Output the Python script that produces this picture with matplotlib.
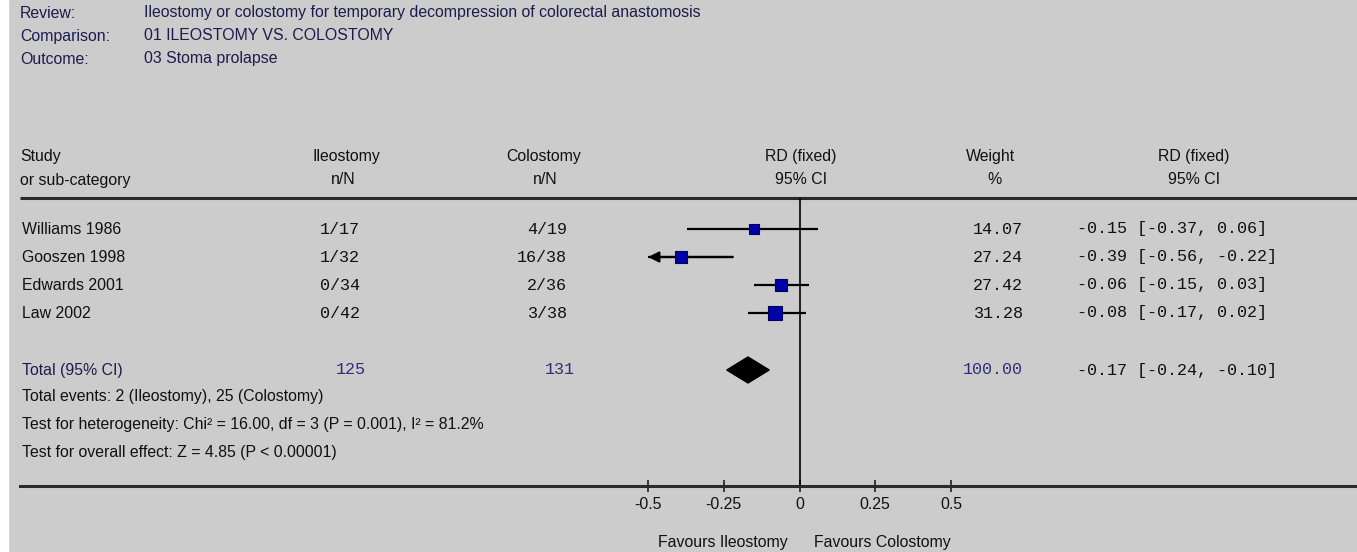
import matplotlib
matplotlib.use("Agg")
import matplotlib.pyplot as plt
from matplotlib import font_manager
from matplotlib.patches import Polygon, Rectangle

# ---------------- data ----------------
review = "Ileostomy or colostomy for temporary decompression of colorectal anastomosis"
comparison = "01 ILEOSTOMY VS. COLOSTOMY"
outcome = "03 Stoma prolapse"

studies = ["Williams 1986", "Gooszen 1998", "Edwards 2001", "Law 2002"]
ileo_events = [1, 1, 0, 0]
ileo_total = [17, 32, 34, 42]
colo_events = [4, 16, 2, 3]
colo_total = [19, 38, 36, 38]
weights = [14.07, 27.24, 27.42, 31.28]
rd = [-0.15, -0.39, -0.06, -0.08]
ci_lo = [-0.37, -0.56, -0.15, -0.17]
ci_hi = [0.06, -0.22, 0.03, 0.02]

total_ileo_n = 125
total_colo_n = 131
total_weight = 100.00
total_rd = -0.17
total_lo = -0.24
total_hi = -0.10
total_ileo_events = 2
total_colo_events = 25
het_text = "Test for heterogeneity: Chi\u00b2 = 16.00, df = 3 (P = 0.001), I\u00b2 = 81.2%"
overall_text = "Test for overall effect: Z = 4.85 (P < 0.00001)"

ticks = [-0.5, -0.25, 0, 0.25, 0.5]
tick_labels = ["-0.5", "-0.25", "0", "0.25", "0.5"]
axis_min, axis_max = -0.5, 0.5
fav_left = "Favours Ileostomy"
fav_right = "Favours Colostomy"

# ---------------- layout / style ----------------
W, H = 1357, 552
fams = {f.name for f in font_manager.fontManager.ttflist}
if "Liberation Sans Narrow" in fams:
    SANS, SS = "Liberation Sans Narrow", 13.7
else:
    SANS, SS = "Liberation Sans", 11.4
MONO, MS = "Liberation Mono", 12.1

BG = "#cccccc"
NAVY = "#1c1c4e"
BLK = "#111111"
NUMBLUE = "#2e2e78"

fig = plt.figure(figsize=(W / 100, H / 100), dpi=100, facecolor=BG)
tax = fig.add_axes([0, 0, 1, 1])
tax.set_xlim(0, W)
tax.set_ylim(H, 0)
tax.axis("off")
tax.add_patch(Rectangle((0, 0), 8, H, color="white", zorder=0))

def st(x, y, s, ha="left", color=BLK, mono=False, size=None):
    tax.text(x, y, s, ha=ha, va="center", color=color,
             family=MONO if mono else SANS,
             fontsize=size or (MS if mono else SS))

# header block
st(20, 13, "Review:", color=NAVY)
st(20, 36, "Comparison:", color=NAVY)
st(20, 59, "Outcome:", color=NAVY)
st(144, 13, review, color=NAVY)
st(144, 36, comparison, color=NAVY)
st(144, 59, outcome, color=NAVY)

# column headers
st(20, 157, "Study")
st(20, 180, "or sub-category")
st(346, 157, "Ileostomy", ha="center")
st(343, 180, "n/N", ha="center")
st(544, 157, "Colostomy", ha="center")
st(545, 180, "n/N", ha="center")
st(801, 157, "RD (fixed)", ha="center")
st(801, 180, "95% CI", ha="center")
st(990, 157, "Weight", ha="center")
st(994, 180, "%", ha="center")
st(1194, 157, "RD (fixed)", ha="center")
st(1194, 180, "95% CI", ha="center")

tax.hlines(198, 20, W, color="#2a2a2a", lw=2.2)

row_y = [229, 257, 285, 313]
for i, name in enumerate(studies):
    y = row_y[i]
    st(22, y, name)
    st(320, y, f"{ileo_events[i]}/{ileo_total[i]}", mono=True)
    st(567, y, f"{colo_events[i]}/{colo_total[i]}", ha="right", mono=True)
    st(1023, y, f"{weights[i]:.2f}", ha="right", mono=True)
    st(1077, y, f"{rd[i]:.2f} [{ci_lo[i]:.2f}, {ci_hi[i]:.2f}]", mono=True)

ty = 370
st(22, ty, "Total (95% CI)", color=NAVY)
st(336, ty, f"{total_ileo_n}", mono=True, color=NUMBLUE)
st(575, ty, f"{total_colo_n}", ha="right", mono=True, color=NUMBLUE)
st(1023, ty, f"{total_weight:.2f}", ha="right", mono=True, color=NUMBLUE)
st(1077, ty, f"{total_rd:.2f} [{total_lo:.2f}, {total_hi:.2f}]", mono=True)
st(22, 397, f"Total events: {total_ileo_events} (Ileostomy), {total_colo_events} (Colostomy)")
st(22, 424, het_text)
st(22, 452, overall_text)

# ---------------- forest axes ----------------
x0px, ppu = 799.5, 303.0  # pixel of zero, pixels per unit
left_px = 20
fax = fig.add_axes([left_px / W, 0, 1 - left_px / W, 1], facecolor="none")
fax.set_xlim((left_px - x0px) / ppu, (W - x0px) / ppu)
fax.set_ylim(H, 0)
for s in ["top", "left", "right"]:
    fax.spines[s].set_visible(False)
fax.spines["bottom"].set_position(("data", 486))
fax.spines["bottom"].set_linewidth(2.2)
fax.spines["bottom"].set_color("#2a2a2a")
fax.set_yticks([])
fax.set_xticks(ticks)
fax.set_xticklabels(tick_labels, family=SANS, fontsize=SS, color=BLK)
fax.tick_params(axis="x", direction="inout", length=8, width=1.1, pad=4, colors=BLK)

fax.vlines(0, 198, 486, color="black", lw=1.2, zorder=2)

for i in range(len(studies)):
    y = row_y[i]
    lo = max(ci_lo[i], axis_min)
    hi = min(ci_hi[i], axis_max)
    fax.hlines(y, lo, hi, color="black", lw=1.6, zorder=3)
    if ci_lo[i] < axis_min:
        fax.annotate("", xy=(axis_min, y), xytext=(hi, y),
                     arrowprops=dict(arrowstyle="-|>", color="black", lw=1.6,
                                     mutation_scale=16, shrinkA=0, shrinkB=0),
                     zorder=3)
    ms = 1.75 * weights[i] ** 0.5
    fax.plot(rd[i], y, "s", ms=ms, mfc="#0000a8", mec="#00005a", mew=0.8, zorder=4)

dh = 13
fax.add_patch(Polygon([(total_lo, ty), (total_rd, ty - dh), (total_hi, ty), (total_rd, ty + dh)],
                      closed=True, color="black", zorder=4))

tax.text(x0px - 12, 543, fav_left, ha="right", va="center", family=SANS, fontsize=SS, color=BLK)
tax.text(x0px + 14, 543, fav_right, ha="left", va="center", family=SANS, fontsize=SS, color=BLK)

fig.savefig("out.png", dpi=100, facecolor=BG)
